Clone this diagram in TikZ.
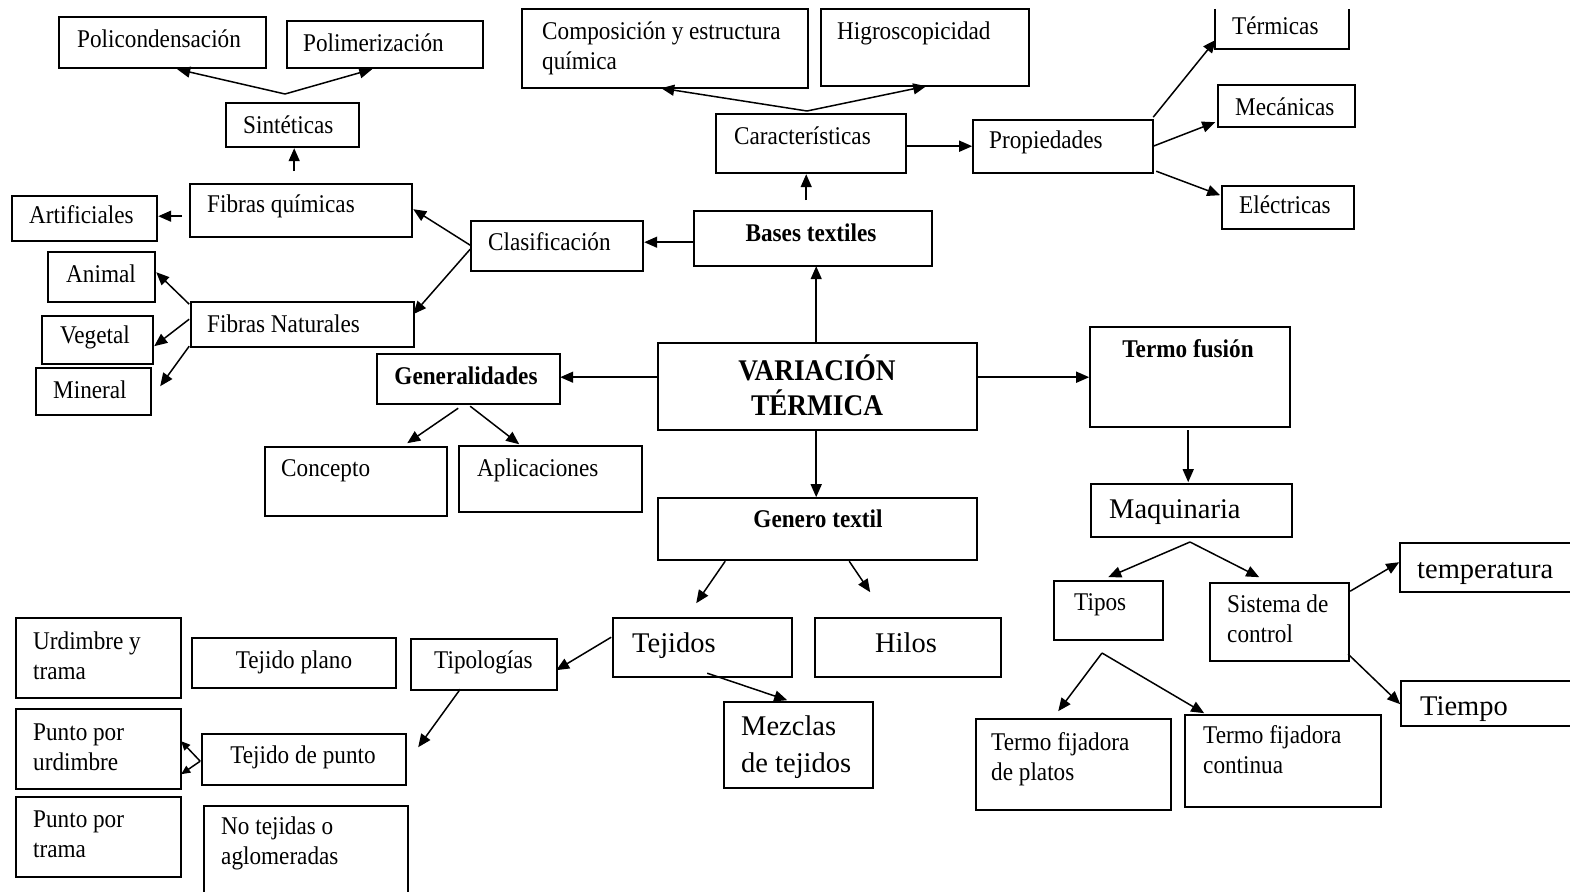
\documentclass[tikz,border=0pt]{standalone}
\usepackage{fontspec}
\setmainfont{Liberation Serif}[FakeStretch=0.91]
\newfontfamily\bigf{Liberation Serif}
\usetikzlibrary{arrows.meta}
\tikzset{
  bx/.style={draw, line width=1.6pt, inner sep=0pt},
  tx/.style={inner sep=0pt, anchor=base west, align=left, font=\fontsize{25.5}{30}\selectfont},
  tc/.style={inner sep=0pt, anchor=base, align=center, font=\fontsize{25.5}{30}\selectfont},
  big/.style={font=\bigf\fontsize{28.5}{37}\selectfont},
  bld/.style={font=\bfseries\fontsize{25.5}{30}\selectfont},
  ar/.style={line width=1.5pt, -{Triangle[length=13pt,width=11pt]}},
  sar/.style={line width=1.5pt, -{Triangle[length=9pt,width=8pt]}},
}
\newcommand\mybox[5]{\node[bx, minimum width={(#4-#2)*1pt}, minimum height={(#5-#3)*1pt}] (#1) at ({(#2+#4)/2},{(#3+#5)/2}) {};}
\begin{document}
\begin{tikzpicture}[x=1pt,y=-1pt]
\useasboundingbox (0,0) rectangle (1570,891);
% boxes
\mybox{pol}{59}{17}{266}{68}
\mybox{polim}{287}{21}{483}{68}
\mybox{sint}{226}{103}{359}{147}
\mybox{fq}{190}{184}{412}{237}
\mybox{art}{12}{196}{157}{241}
\mybox{animal}{48}{252}{155}{302}
\mybox{veg}{42}{316}{153}{364}
\mybox{min}{36}{368}{151}{415}
\mybox{fnat}{191}{302}{414}{347}
\mybox{clas}{471}{221}{643}{271}
\mybox{bases}{694}{211}{932}{266}
\mybox{car}{716}{114}{906}{173}
\mybox{comp}{522}{9}{808}{88}
\mybox{hig}{821}{9}{1029}{86}
\mybox{prop}{973}{120}{1153}{173}
\node[inner sep=0pt, minimum width=134pt, minimum height=40pt] (term) at (1282,29) {};
\draw[line width=1.6pt] (term.north west) -- (term.south west) -- (term.south east) -- (term.north east);
\mybox{mec}{1218}{85}{1355}{127}
\mybox{elec}{1222}{186}{1354}{229}
\mybox{var}{658}{343}{977}{430}
\mybox{gen}{377}{354}{560}{404}
\mybox{conc}{265}{447}{447}{516}
\mybox{apl}{459}{446}{642}{512}
\mybox{tf}{1090}{327}{1290}{427}
\mybox{maq}{1091}{484}{1292}{537}
\mybox{gt}{658}{498}{977}{560}
\mybox{tej}{613}{618}{792}{677}
\mybox{hilos}{815}{618}{1001}{677}
\mybox{mez}{724}{702}{873}{788}
\mybox{tip}{411}{639}{557}{690}
\mybox{tplano}{192}{638}{396}{688}
\mybox{uyt}{16}{618}{181}{698}
\mybox{ppu}{16}{709}{181}{789}
\mybox{tpunto}{202}{734}{406}{785}
\mybox{ppt}{16}{797}{181}{877}
\mybox{notej}{204}{806}{408}{900}
\mybox{tipos}{1054}{581}{1163}{640}
\mybox{sist}{1210}{583}{1349}{661}
\mybox{temp}{1400}{543}{1580}{592}
\mybox{tiempo}{1401}{681}{1580}{726}
\mybox{tfp}{976}{719}{1171}{810}
\mybox{tfc}{1185}{715}{1381}{807}
% texts (multi-line nodes: base = last line)
\node[tx] (pol-t) at (77,48) {Policondensación};
\node[tx] (polim-t) at (303,52) {Polimerización};
\node[tx] (sint-t) at (243,133) {Sintéticas};
\node[tx] (fq-t) at (207,212) {Fibras químicas};
\node[tx] (art-t) at (29,223) {Artificiales};
\node[tx] (animal-t) at (66,282) {Animal};
\node[tx] (veg-t) at (60,343) {Vegetal};
\node[tx] (min-t) at (53,398) {Mineral};
\node[tx] (fnat-t) at (207,332) {Fibras Naturales};
\node[tx] (clas-t) at (488,250) {Clasificación};
\node[tc, bld] (bases-t) at (811,241) {Bases textiles};
\node[tx] (car-t) at (734,144) {Características};
\node[tx] (comp-t) at (542,70) {Composición y estructura\\química};
\node[tx] (hig-t) at (837,40) {Higroscopicidad};
\node[tx] (prop-t) at (989,148) {Propiedades};
\node[tx] (term-t) at (1232,35) {Térmicas};
\node[tx] (mec-t) at (1235,115) {Mecánicas};
\node[tx] (elec-t) at (1239,213) {Eléctricas};
\node[tc, font=\bfseries\fontsize{30}{35}\selectfont] (var-t) at (817,415) {VARIACIÓN\\TÉRMICA};
\node[tc, bld] (gen-t) at (466,384) {Generalidades};
\node[tx] (conc-t) at (281,476) {Concepto};
\node[tx] (apl-t) at (477,476) {Aplicaciones};
\node[tc, bld] (tf-t) at (1188,357) {Termo fusión};
\node[tx, big] (maq-t) at (1109,518) {Maquinaria};
\node[tc, bld] (gt-t) at (818,527) {Genero textil};
\node[tx, big] (tej-t) at (632,652) {Tejidos};
\node[tc, big] (hilos-t) at (906,652) {Hilos};
\node[tx, big] (mez-t) at (741,772) {Mezclas\\de tejidos};
\node[tx] (tip-t) at (434,668) {Tipologías};
\node[tc] (tplano-t) at (294,668) {Tejido plano};
\node[tx] (uyt-t) at (33,679) {Urdimbre y\\trama};
\node[tx] (ppu-t) at (33,770) {Punto por\\urdimbre};
\node[tc] (tpunto-t) at (303,763) {Tejido de punto};
\node[tx] (ppt-t) at (33,857) {Punto por\\trama};
\node[tx] (notej-t) at (221,864) {No tejidas o\\aglomeradas};
\node[tx] (tipos-t) at (1074,610) {Tipos};
\node[tx] (sist-t) at (1227,642) {Sistema de\\control};
\node[tx, big] (temp-t) at (1417,578) {temperatura};
\node[tx, big] (tiempo-t) at (1420,715) {Tiempo};
\node[tx] (tfp-t) at (991,780) {Termo fijadora\\de platos};
\node[tx] (tfc-t) at (1203,773) {Termo fijadora\\continua};
% free branching points
\coordinate (sapex) at (285,94);
\coordinate (capex) at (807,111);
\coordinate (mapex) at (1190,542);
\coordinate (tapex) at (1102,653);
% connectors
\draw[ar] (sapex) -- ([shift={(119,53)}]pol.north west);
\draw[ar] (sapex) -- ([shift={(86,49)}]polim.north west);
\draw[ar] ([shift={(105,-12)}]fq.north west) -- ([shift={(69,46)}]sint.north west);
\draw[ar] ([shift={(-7,33)}]fq.north west) -- ([shift={(147,21)}]art.north west);
\draw[ar] ([shift={(0,25)}]clas.north west) -- ([shift={(224,26)}]fq.north west);
\draw[ar] ([shift={(0,29)}]clas.north west) -- ([shift={(223,13)}]fnat.north west);
\draw[ar] ([shift={(-1,3)}]fnat.north west) -- ([shift={(109,21)}]animal.north west);
\draw[ar] ([shift={(-1,18)}]fnat.north west) -- ([shift={(113,31)}]veg.north west);
\draw[ar] ([shift={(-1,45)}]fnat.north west) -- ([shift={(125,19)}]min.north west);
\draw[ar] ([shift={(0,32)}]bases.north west) -- ([shift={(174,22)}]clas.north west);
\draw[ar] ([shift={(113,-10)}]bases.north west) -- ([shift={(91,61)}]car.north west);
\draw[ar] (capex) -- ([shift={(140,80)}]comp.north west);
\draw[ar] (capex) -- ([shift={(106,78)}]hig.north west);
\draw[ar] ([shift={(190,33)}]car.north west) -- ([shift={(0,27)}]prop.north west);
\draw[ar] ([shift={(181,-2)}]prop.north west) -- ([shift={(1,31)}]term.north west);
\draw[ar] ([shift={(181,27)}]prop.north west) -- ([shift={(-2,38)}]mec.north west);
\draw[ar] ([shift={(184,52)}]prop.north west) -- ([shift={(-1,10)}]elec.north west);
\draw[ar] ([shift={(159,0)}]var.north west) -- ([shift={(123,56)}]bases.north west);
\draw[ar] ([shift={(0,35)}]var.north west) -- ([shift={(184,24)}]gen.north west);
\draw[ar] ([shift={(319,35)}]var.north west) -- ([shift={(0,51)}]tf.north west);
\draw[ar] ([shift={(159,87)}]var.north west) -- ([shift={(159,0)}]gt.north west);
\draw[ar] ([shift={(82,55)}]gen.north west) -- ([shift={(143,-3)}]conc.north west);
\draw[ar] ([shift={(94,53)}]gen.north west) -- ([shift={(61,-1)}]apl.north west);
\draw[ar] ([shift={(68,64)}]gt.north west) -- ([shift={(84,-14)}]tej.north west);
\draw[ar] ([shift={(192,64)}]gt.north west) -- ([shift={(56,-25)}]hilos.north west);
\draw[ar] ([shift={(95,56)}]tej.north west) -- ([shift={(64,-1)}]mez.north west);
\draw[ar] ([shift={(-1,20)}]tej.north west) -- ([shift={(146,32)}]tip.north west);
\draw[ar] ([shift={(50,51)}]tip.north west) -- ([shift={(217,14)}]tpunto.north west);
\draw[sar] ([shift={(-1,28)}]tpunto.north west) -- ([shift={(166,33)}]ppu.north west);
\draw[sar] ([shift={(-1,28)}]tpunto.north west) -- ([shift={(166,66)}]ppu.north west);
\draw[ar] ([shift={(99,104)}]tf.north west) -- ([shift={(98,-1)}]maq.north west);
\draw[ar] (mapex) -- ([shift={(55,-3)}]tipos.north west);
\draw[ar] (mapex) -- ([shift={(50,-5)}]sist.north west);
\draw[ar] ([shift={(141,9)}]sist.north west) -- ([shift={(0,20)}]temp.north west);
\draw[ar] ([shift={(139,72)}]sist.north west) -- ([shift={(0,24)}]tiempo.north west);
\draw[ar] (tapex) -- ([shift={(83,-7)}]tfp.north west);
\draw[ar] (tapex) -- ([shift={(20,-1)}]tfc.north west);
\end{tikzpicture}
\end{document}
